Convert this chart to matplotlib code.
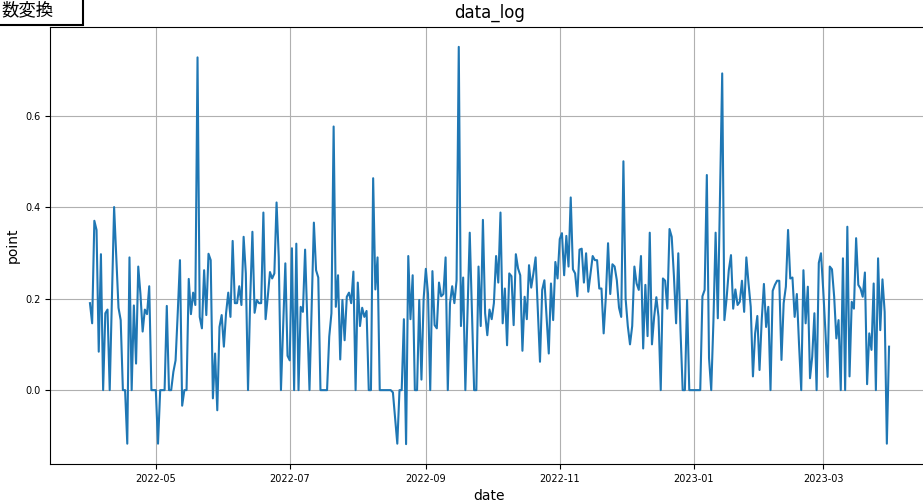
import matplotlib
matplotlib.use("Agg")
import matplotlib.pyplot as plt
import matplotlib.dates as mdates
import matplotlib.ticker as ticker
from matplotlib.patches import Rectangle
import pandas as pd

# daily values, 2022-04-01 .. 2023-03-31
start_date = "2022-04-01"
points = [
    0.19, 0.146, 0.37, 0.35, 0.084, 0.297, 0.0, 0.168, 0.176, 0.0,
    0.2, 0.40, 0.29, 0.18, 0.153, 0.0, 0.0, -0.117, 0.29, 0.0,
    0.185, 0.058, 0.27, 0.21, 0.128, 0.176, 0.166, 0.227, 0.0, 0.0,
    0.0, -0.117, 0.0, 0.0, 0.0, 0.184, 0.0, 0.0, 0.04, 0.065,
    0.17, 0.284, -0.034, 0.0, 0.0, 0.243, 0.166, 0.213, 0.186, 0.727,
    0.16, 0.135, 0.262, 0.164, 0.298, 0.284, -0.018, 0.08, -0.044, 0.138,
    0.164, 0.095, 0.168, 0.213, 0.16, 0.326, 0.19, 0.19, 0.227, 0.186,
    0.335, 0.255, 0.0, 0.2, 0.346, 0.169, 0.197, 0.19, 0.19, 0.388,
    0.155, 0.204, 0.258, 0.244, 0.255, 0.41, 0.29, 0.0, 0.14, 0.277,
    0.075, 0.065, 0.31, 0.0, 0.32, 0.0, 0.182, 0.171, 0.307, 0.15,
    0.0, 0.18, 0.366, 0.262, 0.246, 0.0, 0.0, 0.0, 0.0, 0.117,
    0.168, 0.576, 0.182, 0.251, 0.067, 0.197, 0.109, 0.204, 0.213, 0.19,
    0.259, 0.0, 0.235, 0.14, 0.18, 0.16, 0.173, 0.0, 0.0, 0.463,
    0.22, 0.29, 0.0, 0.0, 0.0, 0.0, 0.0, 0.0, -0.005, -0.06,
    -0.117, 0.0, 0.0, 0.155, -0.118, 0.293, 0.155, 0.251, 0.0, 0.0,
    0.197, 0.023, 0.2, 0.265, 0.21, 0.0, 0.26, 0.142, 0.135, 0.235,
    0.205, 0.21, 0.29, 0.0, 0.19, 0.227, 0.19, 0.24, 0.75, 0.14,
    0.246, 0.0, 0.17, 0.344, 0.17, 0.0, 0.0, 0.27, 0.14, 0.372,
    0.168, 0.12, 0.176, 0.155, 0.19, 0.293, 0.235, 0.388, 0.146, 0.222,
    0.098, 0.255, 0.249, 0.142, 0.297, 0.266, 0.251, 0.086, 0.204, 0.155,
    0.273, 0.224, 0.255, 0.29, 0.178, 0.062, 0.219, 0.24, 0.16, 0.08,
    0.233, 0.153, 0.28, 0.244, 0.33, 0.343, 0.251, 0.337, 0.27, 0.421,
    0.264, 0.255, 0.205, 0.307, 0.309, 0.235, 0.299, 0.215, 0.255, 0.293,
    0.284, 0.284, 0.222, 0.222, 0.124, 0.204, 0.321, 0.21, 0.275, 0.27,
    0.24, 0.18, 0.16, 0.5, 0.2, 0.14, 0.1, 0.14, 0.27, 0.233,
    0.219, 0.293, 0.091, 0.23, 0.118, 0.344, 0.1, 0.16, 0.203, 0.16,
    0.0, 0.244, 0.239, 0.178, 0.352, 0.335, 0.25, 0.146, 0.299, 0.13,
    0.0, 0.0, 0.197, 0.0, 0.0, 0.0, 0.0, 0.0, 0.0, 0.205,
    0.219, 0.47, 0.07, 0.0, 0.15, 0.344, 0.157, 0.42, 0.692, 0.153,
    0.2, 0.262, 0.295, 0.178, 0.22, 0.186, 0.193, 0.239, 0.171, 0.29,
    0.233, 0.182, 0.03, 0.124, 0.162, 0.044, 0.153, 0.232, 0.138, 0.182,
    0.0, 0.217, 0.23, 0.239, 0.239, 0.066, 0.19, 0.226, 0.35, 0.244,
    0.246, 0.16, 0.21, 0.1, 0.0, 0.262, 0.146, 0.226, 0.026, 0.073,
    0.168, 0.0, 0.278, 0.299, 0.22, 0.13, 0.029, 0.27, 0.264, 0.204,
    0.113, 0.153, 0.0, 0.288, 0.0, 0.357, 0.03, 0.193, 0.178, 0.332,
    0.23, 0.222, 0.204, 0.257, 0.013, 0.124, 0.088, 0.233, 0.0, 0.288,
    0.131, 0.242, 0.171, -0.117, 0.095,
]
title = "data_log"
x_label = "date"
y_label = "point"
note = "数変換"  # visible part of the corner label

dates = pd.date_range(start_date, periods=len(points), freq="D")

plt.rcParams["font.family"] = ["DejaVu Sans", "Noto Sans CJK JP"]

fig = plt.figure(figsize=(9.23, 5.04), dpi=100)
# axes runs a little past the right edge, like the screenshot
ax = fig.add_axes([50 / 923, 40 / 504, 879 / 923, 437 / 504])

ax.plot(dates, points, color="#1f77b4", linewidth=1.5)

ax.set_title(title, fontsize=12, pad=7)
ax.set_xlabel(x_label, fontsize=10)
ax.set_ylabel(y_label, fontsize=10)

# ticks every two months, y every 0.2
ax.xaxis.set_major_locator(mdates.MonthLocator(bymonth=[1, 3, 5, 7, 9, 11]))
ax.xaxis.set_major_formatter(mdates.DateFormatter("%Y-%m"))
ax.yaxis.set_major_locator(ticker.MultipleLocator(0.2))
ax.tick_params(labelsize=7)
ax.grid(True)

# the cut-off label box in the top left corner
box = Rectangle((-0.05, 479 / 504), 83 / 923 + 0.05, 0.1,
                transform=fig.transFigure, facecolor="white",
                edgecolor="black", linewidth=1.5, clip_on=False)
fig.add_artist(box)
fig.text(1 / 923, 1 - 10 / 504, note, fontsize=12.5, ha="left", va="center",
         family=["Noto Sans CJK JP"])

fig.savefig("out.png", dpi=100)
